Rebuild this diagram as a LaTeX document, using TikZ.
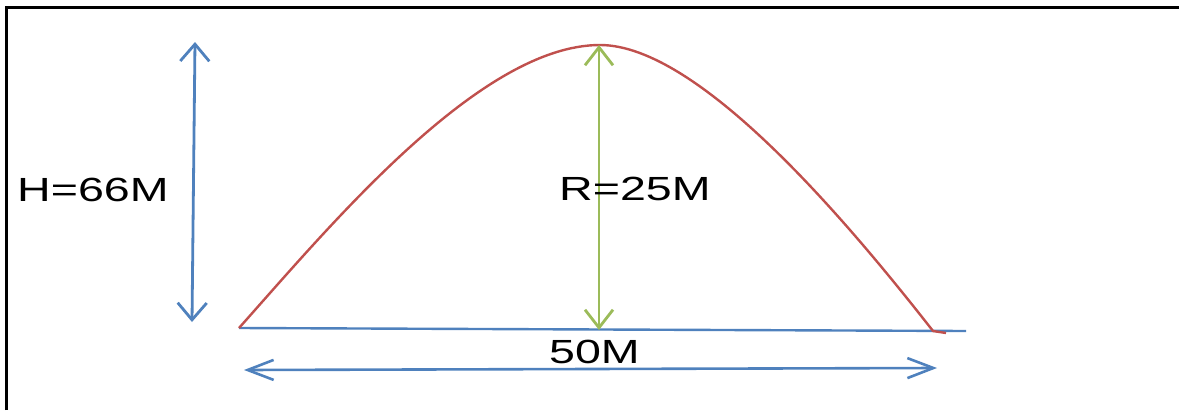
\documentclass[tikz,border=0pt]{standalone}
\usepackage{fontspec}
\usepackage{graphicx}
\setmainfont{Liberation Sans}
\usetikzlibrary{arrows.meta}
\definecolor{ablue}{HTML}{4F81BD}
\definecolor{ared}{HTML}{C0504D}
\definecolor{agreen}{HTML}{9BBB59}
\tikzset{
  lbl/.style={inner sep=0pt, anchor=base west, font=\fontsize{33.5}{36}\selectfont},
  vdim/.style={ablue, line width=2.8pt, {Straight Barb[length=17pt,width=29pt]}-{Straight Barb[length=17pt,width=29pt]}},
  hdim/.style={ablue, line width=2.6pt, {Straight Barb[length=26pt,width=20pt]}-{Straight Barb[length=26pt,width=20pt]}},
  rdim/.style={agreen, line width=2.8pt, {Straight Barb[length=18pt,width=28pt]}-{Straight Barb[length=18pt,width=28pt]}},
  ground/.style={ablue, line width=2.4pt},
  traj/.style={ared, line width=2.4pt, line join=round},
  frame/.style={black, line width=3pt}
}
\newcommand{\wide}[1]{\scalebox{1.39}[1]{#1}}
\begin{document}
\begin{tikzpicture}[x=1pt,y=-1pt]
\useasboundingbox (0,0) rectangle (1179,410);
% frame
\draw[frame] (6.5,410) -- (6.5,7) -- (1179,7);
% coordinates
\coordinate (hT) at (195,42);
\coordinate (hB) at (192,322);
\coordinate (gL) at (239,328);
\coordinate (gR) at (966,331);
\coordinate (pk) at (600,45);
\coordinate (land) at (933,331);
\coordinate (hook) at (946,333);
\coordinate (rT) at (599,45);
\coordinate (rB) at (599,330);
\coordinate (wL) at (244,370);
\coordinate (wR) at (937,368);
% ground line
\draw[ground] (gL) -- (gR);
% trajectory
\draw[traj] (gL) .. controls (330,226) and (480,45) .. (pk)
            .. controls (700,45) and (850,225) .. (land) -- (hook);
% dimension arrows
\draw[vdim] (hT) -- (hB);
\draw[rdim] (rT) -- (rB);
\draw[hdim] (wL) -- (wR);
% labels
\node[lbl] (hlabel) at (17,201) {\wide{H=66M}};
\node[lbl] (rlabel) at (559,200) {\wide{R=25M}};
\node[lbl] (wlabel) at (549,363) {\wide{50M}};
\end{tikzpicture}
\end{document}
